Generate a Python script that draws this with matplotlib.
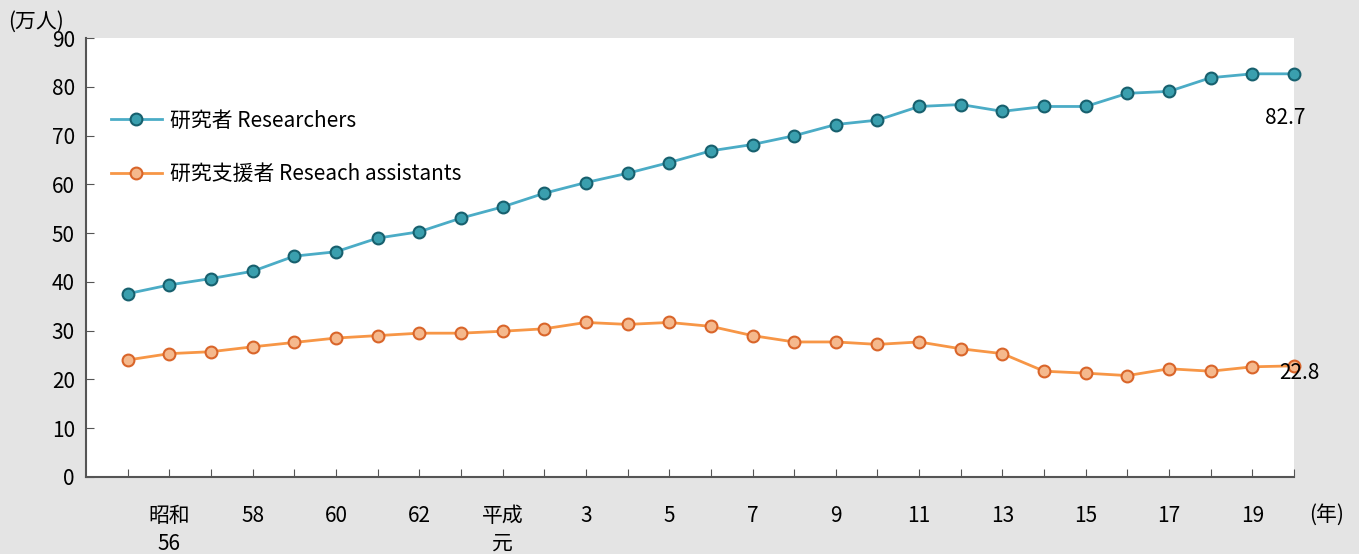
import matplotlib.pyplot as plt

plt.rcParams['font.family'] = ['Noto Sans CJK JP', 'DejaVu Sans']

# 昭和55(1980) - 平成20(2008)
x_labels = ["", "昭和\n56", "", "58", "", "60", "", "62", "", "平成\n元",
            "", "3", "", "5", "", "7", "", "9", "", "11",
            "", "13", "", "15", "", "17", "", "19", ""]

researchers = [37.6, 39.4, 40.7, 42.2, 45.3, 46.2, 49.0, 50.3, 53.1, 55.4,
               58.2, 60.4, 62.3, 64.5, 66.9, 68.2, 70.0, 72.3, 73.2, 76.0,
               76.4, 75.0, 76.0, 76.0, 78.7, 79.1, 81.9, 82.7, 82.7]

assistants = [24.0, 25.3, 25.7, 26.7, 27.6, 28.5, 29.0, 29.5, 29.5, 29.9,
              30.4, 31.7, 31.3, 31.7, 30.9, 29.0, 27.7, 27.7, 27.2, 27.7,
              26.3, 25.3, 21.7, 21.3, 20.8, 22.2, 21.7, 22.6, 22.8]

xs = list(range(len(researchers)))

fig = plt.figure(figsize=(13.59, 5.54), dpi=100, facecolor='#e4e4e4')
ax = fig.add_axes([0.0633, 0.139, 0.8889, 0.792])
ax.set_facecolor('white')

ax.plot(xs, researchers, color='#4bacc6', lw=2, marker='o', markersize=8.5,
        markerfacecolor='#3a9fae', markeredgecolor='#17606e', markeredgewidth=1.5,
        label='研究者 Researchers', clip_on=False)
ax.plot(xs, assistants, color='#f79646', lw=2, marker='o', markersize=8.5,
        markerfacecolor='#f5b98d', markeredgecolor='#d9652a', markeredgewidth=1.5,
        label='研究支援者 Reseach assistants', clip_on=False)

# 最終年の値
ax.text(xs[-1] - 0.7, researchers[-1] - 10.3, f"{researchers[-1]}", fontsize=15)
ax.text(xs[-1] - 0.35, assistants[-1] - 2.6, f"{assistants[-1]}", fontsize=15)

ax.set_xlim(-1, len(xs) - 1)
ax.set_ylim(0, 90)
ax.set_yticks(range(0, 91, 10))
ax.set_xticks(xs)
ax.set_xticklabels(x_labels, fontsize=15, linespacing=1.35, va='top')

for s in ['top', 'right']:
    ax.spines[s].set_visible(False)
for s in ['left', 'bottom']:
    ax.spines[s].set_color('#555555')
    ax.spines[s].set_linewidth(1.5)

ax.tick_params(axis='x', direction='in', length=6, color='#555555', pad=20)
ax.tick_params(axis='y', direction='in', length=6, color='#555555', labelsize=15, pad=8)

ax.legend(loc='upper left', bbox_to_anchor=(0.005, 0.88), frameon=False,
          fontsize=15, handlelength=2.45, handletextpad=0.4, labelspacing=1.5)

fig.text(0.006, 0.95, "(万人)", fontsize=15)
fig.text(0.963, 0.06, "(年)", fontsize=15)

plt.savefig("out.png", facecolor=fig.get_facecolor())
